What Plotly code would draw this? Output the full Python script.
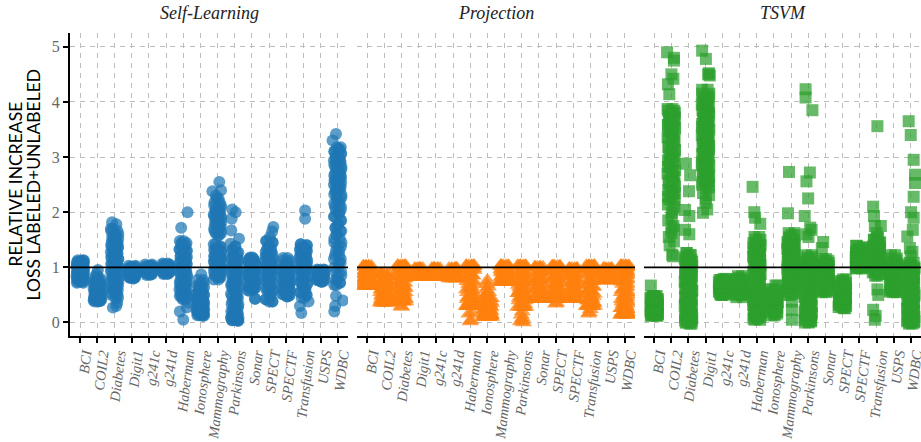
import plotly.graph_objects as go

categories = ["BCI","COIL2","Diabetes","Digit1","g241c","g241d","Haberman","Ionosphere",
              "Mammography","Parkinsons","Sonar","SPECT","SPECTF","Transfusion","USPS","WDBC"]
y_ticks = [0,1,2,3,4,5]
panel_titles = ["Self-Learning","Projection","TSVM"]
jitter_a = [-0.2,0.12,-0.05,0.21,-0.14,0.04,0.17,-0.22,0.08,-0.1,0.19]
jitter_b = [0.18,-0.16,0.09,-0.03,0.22,-0.2,-0.08,0.14,-0.12,0.02,0.2,-0.18,0.06]
edge_dx = [-0.24,-0.08,0.08,0.24]

# ---------- Self-Learning ----------
sl_bci = [.72,.74,.75,.77,.79,.8,.82,.84,.85,.87,.88,.9,.91,.93,.94,.96,.98,.99,1.01,1.02,1.04,1.06,1.07,1.09,1.1,1.12,1.13]
sl_coil2 = [.38,.39,.4,.41,.42,.44,.46,.47,.49,.52,.54,.56,.59,.61,.64,.66,.68,.71,.73,.76,.79,.83]
sl_diabetes = [.45,.5,.54,.58,.61,.65,.68,.72,.75,.79,.82,.86,.9,.93,.96,1.0,1.03,1.06,1.09,1.12,1.15,1.18,1.22,1.25,1.28,1.31,1.35,1.38,1.41,1.44,1.48,1.52,1.56,1.6,1.66,1.7]
sl_digit1 = [.8,.81,.82,.84,.85,.86,.88,.89,.9,.91,.93,.94,.95,.97,.98,1.0,1.01,1.03]
sl_g241c = [.86,.88,.89,.91,.92,.94,.95,.96,.98,.99,1.0,1.01,1.02,1.03,1.05]
sl_g241d = [.88,.89,.9,.92,.93,.95,.96,.97,.99,1.0,1.01,1.03,1.04,1.05,1.07]
sl_haberman = [.42,.45,.48,.5,.53,.56,.6,.63,.66,.7,.73,.76,.8,.83,.86,.9,.93,.96,1.0,1.03,1.06,1.09,1.12,1.16,1.19,1.22,1.26,1.3,1.33,1.37,1.41,1.44,1.48]
sl_ionosphere = [.12,.13,.14,.16,.18,.2,.21,.23,.25,.26,.28,.3,.32,.34,.36,.38,.4,.42,.44,.47,.5,.53,.56,.6,.64,.68,.72,.77]
sl_mammography = [.78,.82,.85,.88,.91,.94,.97,1.0,1.02,1.05,1.07,1.1,1.12,1.15,1.17,1.2,1.23,1.26,1.29,1.32,1.35,1.38,1.42,1.58,1.62,1.66,1.7,1.74,1.78,1.82,1.86,1.9,1.93,1.96,2.0,2.04,2.08,2.12,2.18,2.25]
sl_parkinsons = [.03,.04,.05,.06,.08,.1,.13,.16,.2,.24,.28,.33,.38,.43,.48,.52,.57,.61,.66,.7,.74,.78,.82,.86,.9,.94,.98,1.02,1.06,1.1,1.14,1.18,1.22,1.27,1.32,1.38]
sl_sonar = [.43,.58,.6,.62,.64,.67,.69,.72,.74,.77,.79,.82,.85,.87,.9,.92,.95,.97,1.0,1.02,1.05,1.08,1.1,1.13,1.16,1.18]
sl_spect = [.38,.42,.5,.56,.6,.64,.68,.72,.76,.8,.84,.88,.91,.94,.97,1.0,1.03,1.06,1.09,1.12,1.16,1.2,1.24,1.28,1.33,1.38,1.45,1.48]
sl_spectf = [.47,.49,.51,.54,.56,.59,.62,.64,.67,.7,.72,.75,.78,.8,.83,.86,.88,.91,.94,.96,.99,1.02,1.05,1.08,1.12,1.17]
sl_transfusion = [.45,.5,.55,.6,.65,.7,.74,.78,.82,.86,.9,.93,.96,.99,1.02,1.05,1.08,1.1,1.13,1.16,1.19,1.22,1.25,1.28,1.31,1.34,1.37,1.4,1.42]
sl_usps = [.74,.75,.77,.78,.8,.81,.83,.84,.86,.87,.89,.9,.91,.93,.94,.95,.96]
sl_wdbc = [.68,.72,.78,.85,.92,1.0,1.08,1.15,1.22,1.3,1.38,1.45,1.52,1.6,1.66,1.72,1.78,1.85,1.92,1.98,2.04,2.1,2.16,2.22,2.27,2.32,2.37,2.42,2.46,2.5,2.54,2.58,2.62,2.66,2.7,2.74,2.78,2.82,2.86,2.9,2.94,2.98,3.02,3.06,3.1,3.14,3.18]
sl_extra_cat = ["COIL2","COIL2","Diabetes","Diabetes","Diabetes","Diabetes","Diabetes","Haberman","Haberman","Haberman","Haberman","Haberman","Haberman",
                "Ionosphere","Mammography","Mammography","Mammography","Mammography","Parkinsons","Parkinsons","Parkinsons","Parkinsons","Parkinsons","Parkinsons",
                "SPECT","SPECT","SPECT","SPECT","Transfusion","Transfusion","Transfusion","Transfusion","Transfusion","WDBC","WDBC","WDBC","WDBC","WDBC","WDBC"]
sl_extra_y = [.95,.88,1.82,1.78,.27,.3,.36,2.0,1.72,.2,.05,.27,.36,.87,2.55,2.4,2.38,2.3,2.05,2.0,1.88,1.67,1.52,1.43,1.73,1.65,1.55,.38,2.03,1.88,.17,.3,.38,3.42,3.3,.2,.3,.4,.48]
sl_extra_dx = [.03,-.05,-.15,.1,-.1,.1,.15,.25,-.12,-.2,0,.2,.3,.05,.1,.2,-.3,-.1,-.15,.05,-.18,-.2,.25,-.25,.25,.18,.05,0,.1,.1,-.12,-.2,.3,-.1,-.3,-.2,-.15,.3,-.1]

# ---------- Projection ----------
pr_bci = [.66,.67,.69,.71,.73,.75,.77,.79,.81,.83,.85,.87,.89,.91,.93,.95,.97,.99,1.01,1.02]
pr_coil2 = [.36,.37,.39,.41,.43,.45,.48,.5,.53,.55,.58,.6,.63,.66,.68,.71,.74,.77,.8,.84,.88]
pr_diabetes = [.38,.4,.43,.46,.49,.52,.55,.58,.62,.65,.68,.72,.76,.8,.84,.88,.92,.95,.98,1.0,1.02,1.03]
pr_digit1 = [.82,.83,.84,.85,.87,.88,.9,.91,.93,.95,.96,.98]
pr_g241c = [.82,.83,.84,.86,.87,.89,.9,.92,.93,.95,.97,.98]
pr_g241d = [.8,.81,.82,.84,.85,.87,.89,.9,.92,.94,.96,.98]
pr_haberman = [.3,.34,.38,.42,.46,.5,.55,.6,.65,.7,.75,.8,.85,.9,.95,.98,1.0,1.02,1.03]
pr_ionosphere = [.1,.11,.12,.13,.14,.15,.16,.18,.2,.21,.23,.25,.27,.29,.31,.33,.35,.38,.41,.44]
pr_mammography = [.73,.74,.76,.78,.8,.82,.84,.86,.88,.9,.92,.94,.96,.98,1.0,1.02,1.03]
pr_parkinsons = [.28,.33,.4,.45,.48,.5,.53,.56,.6,.64,.68,.72,.76,.8,.84,.88,.92,.96,1.0,1.02,1.03]
pr_sonar = [.42,.43,.45,.48,.5,.53,.56,.6,.63,.67,.7,.74,.78,.82,.86,.9,.94,.97,1.0]
pr_spect = [.43,.45,.47,.5,.53,.56,.6,.64,.68,.72,.76,.8,.84,.88,.92,.96,.99,1.01,1.02]
pr_spectf = [.42,.43,.45,.47,.5,.53,.57,.6,.64,.68,.72,.76,.8,.84,.88,.92,.95,.98]
pr_transfusion = [.3,.33,.36,.4,.44,.48,.52,.56,.6,.65,.7,.75,.8,.85,.9,.95,.98,1.0,1.02,1.03]
pr_usps = [.76,.77,.78,.8,.82,.84,.86,.88,.9,.92,.94,.96,.98]
pr_wdbc = [.14,.15,.16,.18,.2,.23,.26,.3,.34,.38,.42,.46,.5,.55,.6,.65,.7,.74,.78,.82,.86,.9,.94,.98,1.0,1.02,1.03]
pr_extra_cat = ["Diabetes","Diabetes","Haberman","Haberman","Haberman","Haberman","Ionosphere","Ionosphere","Ionosphere","Ionosphere","Ionosphere","Ionosphere","Parkinsons","Parkinsons","Parkinsons","Parkinsons","Parkinsons","Parkinsons","SPECT","SPECT","Transfusion","Transfusion","Transfusion"]
pr_extra_y = [.28,.3,.02,.04,.16,.18,.76,.7,.65,.6,.55,.5,.0,.02,.04,.08,.14,.2,.34,.36,.16,.18,.24]
pr_extra_dx = [0,-.03,0,.03,-.08,.1,0,-.04,.05,-.07,.07,-.1,.1,-.08,.02,.05,-.03,.03,-.02,.03,-.1,-.06,0]

# ---------- TSVM ----------
ts_bci = [.12,.13,.14,.15,.16,.18,.2,.22,.24,.26,.28,.3,.32,.34,.36,.38,.4,.42,.44,.46,.48]
ts_coil2 = [2.23,2.28,2.34,2.4,2.46,2.52,2.58,2.64,2.7,2.76,2.82,2.88,2.94,3.0,3.06,3.12,3.18,3.24,3.3,3.36,3.42,3.48,3.52,3.58,3.64,3.68,3.72,3.76,3.8,3.84,3.87]
ts_diabetes = [-.02,0,.02,.04,.07,.1,.14,.18,.22,.26,.3,.34,.38,.42,.46,.5,.54,.58,.62,.66,.7,.74,.78,.82,.86,.9,.94,.98,1.02,1.06,1.1,1.14,1.18,1.22,1.26]
ts_digit1 = [2.45,2.5,2.55,2.6,2.65,2.7,2.75,2.8,2.85,2.9,2.95,3.0,3.05,3.1,3.15,3.2,3.25,3.3,3.35,3.4,3.45,3.5,3.55,3.6,3.65,3.7,3.75,3.8,3.85,3.9,3.95,4.0,4.05,4.1,4.15,4.22]
ts_g241c = [.5,.51,.52,.53,.55,.56,.58,.59,.61,.62,.64,.65,.67,.68,.7,.72,.73,.75,.77,.79]
ts_g241d = [.46,.5,.51,.53,.54,.56,.57,.59,.6,.62,.63,.65,.66,.68,.7,.72,.74,.76,.78,.8,.84]
ts_haberman = [.05,.07,.1,.13,.16,.2,.24,.28,.32,.36,.4,.44,.48,.52,.56,.6,.64,.68,.72,.76,.8,.84,.88,.92,.96,1.0,1.04,1.08,1.12,1.16,1.2,1.24,1.28,1.32,1.36,1.4,1.44,1.5,1.55]
ts_ionosphere = [.13,.16,.19,.22,.24,.27,.3,.32,.35,.37,.4,.42,.44,.46,.48,.5,.52,.54,.56,.6,.67]
ts_mammography = [.5,.53,.56,.6,.63,.66,.7,.73,.76,.8,.83,.86,.9,.93,.96,1.0,1.03,1.06,1.1,1.13,1.16,1.2,1.23,1.26,1.3,1.33,1.36,1.4,1.43,1.46,1.5,1.54,1.58,1.62]
ts_parkinsons = [0,.02,.04,.07,.1,.14,.18,.22,.26,.3,.34,.38,.42,.46,.5,.54,.58,.62,.66,.7,.74,.78,.82,.86,.9,.94,.98,1.02,1.06,1.1,1.14,1.18,1.22]
ts_sonar = [.55,.57,.59,.62,.65,.67,.7,.72,.75,.78,.8,.83,.86,.88,.91,.94,.96,.99,1.02,1.05,1.08,1.12,1.15]
ts_spect = [.26,.28,.3,.32,.34,.37,.39,.42,.44,.47,.49,.52,.54,.56,.59,.61,.64,.66,.69,.72,.75,.78]
ts_spectf = [.98,.99,1.0,1.02,1.03,1.05,1.07,1.09,1.11,1.13,1.15,1.17,1.19,1.21,1.23,1.26,1.28,1.31,1.33,1.36,1.39]
ts_transfusion = [.85,.88,.91,.94,.97,1.0,1.03,1.06,1.09,1.12,1.15,1.18,1.21,1.24,1.27,1.3,1.33,1.36,1.39,1.42,1.45,1.5,1.54]
ts_usps = [.55,.56,.58,.6,.62,.64,.67,.69,.72,.74,.77,.79,.82,.85,.87,.9,.93,.96,.99,1.02,1.05,1.08,1.12,1.16,1.22]
ts_wdbc = [-.02,0,.02,.04,.07,.1,.13,.17,.21,.25,.29,.33,.37,.41,.45,.49,.53,.57,.61,.65,.69,.73,.77,.81,.85,.89,.93,.97,1.0,1.04,1.08]
ts_extra_cat = ["BCI","BCI","COIL2","COIL2","COIL2","COIL2","COIL2","COIL2","COIL2","COIL2","COIL2","COIL2","COIL2","COIL2","COIL2","COIL2","COIL2","COIL2","COIL2","COIL2","COIL2","COIL2","COIL2","COIL2",
                "Diabetes","Diabetes","Diabetes","Diabetes","Diabetes","Diabetes","Diabetes",
                "Digit1","Digit1","Digit1","Digit1","Digit1","Digit1","Digit1","Digit1","Digit1","Digit1","Digit1",
                "Haberman","Haberman","Haberman","Haberman",
                "Mammography","Mammography","Mammography","Mammography","Mammography",
                "Parkinsons","Parkinsons","Parkinsons","Parkinsons","Parkinsons","Parkinsons","Parkinsons","Parkinsons","Parkinsons","Parkinsons","Parkinsons",
                "Sonar","Sonar",
                "Transfusion","Transfusion","Transfusion","Transfusion","Transfusion","Transfusion","Transfusion","Transfusion","Transfusion","Transfusion","Transfusion",
                "WDBC","WDBC","WDBC","WDBC","WDBC","WDBC","WDBC","WDBC","WDBC","WDBC","WDBC","WDBC","WDBC"]
ts_extra_y = [.67,.48,4.9,4.8,4.75,4.5,4.42,4.32,4.14,2.14,2.05,1.99,1.9,1.75,1.68,1.62,1.55,1.47,1.23,1.2,2.1,1.85,1.7,1.4,
              2.88,2.67,2.38,2.04,1.93,1.68,1.6,
              4.93,4.78,4.52,4.5,4.48,2.35,2.31,2.25,2.17,1.99,2.05,
              2.46,2.0,1.9,1.79,
              2.73,1.98,.38,.23,.05,
              4.23,4.08,3.85,2.72,2.56,2.25,1.93,1.72,1.68,1.6,1.55,
              1.46,1.35,
              3.56,2.1,1.93,1.75,1.75,1.62,.6,.5,.23,.05,.12,
              3.65,3.4,2.95,2.68,2.53,2.28,2.0,1.9,1.68,1.56,1.35,1.28,1.2]
ts_extra_dx = [-.2,0,-.25,.15,.15,0,.12,-.2,-.12,-.2,.1,.02,.02,.12,.15,0,-.15,.15,.05,.1,.18,-.18,.02,-.1,
               -.15,.1,.03,-.2,.05,-.2,.05,
               -.2,.02,.2,.15,.25,-.15,.2,.02,0,-.15,.1,
               -.25,-.15,-.1,.2,
               -.12,-.18,.05,.05,.05,
               -.15,-.15,.25,.1,-.1,0,-.2,.12,.2,-.1,.02,
               -.12,-.2,
               .05,-.2,-.15,-.1,.25,0,.05,.1,-.2,-.1,-.05,
               -.12,0,.17,.25,.25,.17,.02,.17,.12,-.2,-.05,.1,0]

sl_series = [sl_bci,sl_coil2,sl_diabetes,sl_digit1,sl_g241c,sl_g241d,sl_haberman,sl_ionosphere,sl_mammography,sl_parkinsons,sl_sonar,sl_spect,sl_spectf,sl_transfusion,sl_usps,sl_wdbc]
pr_series = [pr_bci,pr_coil2,pr_diabetes,pr_digit1,pr_g241c,pr_g241d,pr_haberman,pr_ionosphere,pr_mammography,pr_parkinsons,pr_sonar,pr_spect,pr_spectf,pr_transfusion,pr_usps,pr_wdbc]
ts_series = [ts_bci,ts_coil2,ts_diabetes,ts_digit1,ts_g241c,ts_g241d,ts_haberman,ts_ionosphere,ts_mammography,ts_parkinsons,ts_sonar,ts_spect,ts_spectf,ts_transfusion,ts_usps,ts_wdbc]

PLOT_L, PLOT_T, PLOT_B = 70, 33, 336
PLOT_W = 921 - PLOT_L
domains = [[0, 278/PLOT_W], [287/PLOT_W, 565/PLOT_W], [574/PLOT_W, 1.0]]
colors = ["#1f77b4","#ff7f0e","#2ca02c"]
symbols = ["circle","triangle-up","square"]
sizes = [12,15,12]

fig = go.Figure()

def collect(series, ecat, ey, edx, square_edges):
    xs, ys = [], []
    k = 0
    for i, vals in enumerate(series):
        for v in vals:
            xs.append(i + jitter_a[k % len(jitter_a)])
            ys.append(v)
            xs.append(i + jitter_b[k % len(jitter_b)])
            ys.append(v)
            k += 1
        if square_edges:
            for d in edge_dx:
                xs.append(i + d)
                ys.append(vals[0])
                xs.append(i + d)
                ys.append(vals[-1])
    for c, v, d in zip(ecat, ey, edx):
        xs.append(categories.index(c) + d)
        ys.append(v)
    return xs, ys

panels = [(sl_series, sl_extra_cat, sl_extra_y, sl_extra_dx),
          (pr_series, pr_extra_cat, pr_extra_y, pr_extra_dx),
          (ts_series, ts_extra_cat, ts_extra_y, ts_extra_dx)]

for p, (s, c, y, d) in enumerate(panels):
    xs, ys = collect(s, c, y, d, p == 1)
    suffix = "" if p == 0 else str(p + 1)
    fig.add_trace(go.Scatter(x=xs, y=ys, mode="markers", xaxis="x" + suffix, yaxis="y",
                             marker=dict(color=colors[p], symbol=symbols[p], size=sizes[p], opacity=0.72, line=dict(width=0)),
                             showlegend=False, hoverinfo="skip"))
    fig.add_shape(type="line", xref=("x" + suffix + " domain"), yref="y", x0=0, x1=1, y0=1, y1=1,
                  line=dict(color="black", width=1.6), layer="above")
    fig.add_annotation(text=panel_titles[p], xref="paper", yref="paper", x=sum(domains[p]) / 2,
                       xanchor="center", y=1, yshift=20, yanchor="middle", showarrow=False,
                       font=dict(family="Liberation Serif", size=18, style="italic", color="#222222"))

grid = dict(showgrid=True, gridcolor="#bdbdbd", gridwidth=1, griddash="5px,5px", zeroline=False, automargin=False)
for p in range(3):
    key = "xaxis" if p == 0 else f"xaxis{p+1}"
    fig.update_layout({key: dict(domain=domains[p], range=[-0.6, 15.6], tickmode="array",
                                 tickvals=list(range(16)), ticktext=categories, tickangle=-83,
                                 ticks="outside", ticklen=5, tickcolor="black", tickwidth=1.5,
                                 showline=True, linecolor="black", linewidth=2, anchor="y",
                                 ticklabelshift=4, ticklabelstandoff=-3, ticklabeloverflow="allow",
                                 tickfont=dict(family="Liberation Serif", size=14.5, style="italic", color="#666666"),
                                 **grid)})

fig.update_layout(
    width=921, height=442,
    margin=dict(l=PLOT_L, r=0, t=PLOT_T, b=442 - PLOT_B),
    plot_bgcolor="white", paper_bgcolor="white", showlegend=False,
    yaxis=dict(range=[-0.245, 5.25], tickmode="array", tickvals=y_ticks, ticks="outside", ticklen=5,
               tickcolor="black", tickwidth=1.5, showline=True, linecolor="black", linewidth=2,
               tickfont=dict(family="Liberation Serif", size=16, color="#666666"), **grid),
)
for label, shift in [("RELATIVE INCREASE", -55), ("LOSS LABELED+UNLABELED", -37)]:
    fig.add_annotation(text=label, xref="paper", yref="paper",
                       x=0, xshift=shift, xanchor="center", y=0.5, yanchor="middle", textangle=-90, showarrow=False,
                       font=dict(family="Lato", size=17.5, color="black"), align="center")

fig.write_html("out.html", config={"displayModeBar": False},
               post_script="document.body.style.margin='0';document.documentElement.style.overflow='hidden';")
